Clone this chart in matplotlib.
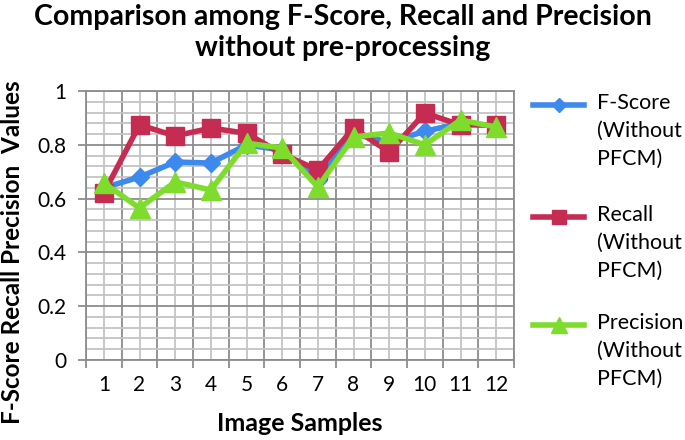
import matplotlib
matplotlib.use("Agg")
import matplotlib.pyplot as plt
from matplotlib.lines import Line2D
from matplotlib.ticker import MultipleLocator

plt.rcParams['font.family'] = ['Lato', 'DejaVu Sans']

samples = list(range(1, 13))
fscore = [0.64, 0.68, 0.736, 0.732, 0.80, 0.78, 0.67, 0.84, 0.81, 0.85, 0.88, 0.87]
recall = [0.621, 0.874, 0.833, 0.862, 0.843, 0.766, 0.706, 0.862, 0.773, 0.918, 0.874, 0.874]
precision = [0.658, 0.565, 0.662, 0.632, 0.806, 0.788, 0.643, 0.829, 0.844, 0.80, 0.892, 0.866]
labels = ["F-Score\n(Without\nPFCM)", "Recall\n(Without\nPFCM)", "Precision\n(Without\nPFCM)"]
yticks = [0, 0.2, 0.4, 0.6, 0.8, 1.0]
ytick_labels = ['0', '0.2', '0.4', '0.6', '0.8', '1']

W, H = 685, 440
fig = plt.figure(figsize=(6.85, 4.4), dpi=100)
ax = fig.add_axes([86 / W, 1 - 360 / H, 428 / W, 269 / H])

c_blue = '#3D8AEE'
c_red = '#C62B52'
c_green = '#7EDD2C'
styles = [(fscore, c_blue, 'D', 9), (recall, c_red, 's', 13), (precision, c_green, '^', 14)]

for z, (vals, c, m, ms) in enumerate(styles):
    ax.plot(samples, vals, color=c, lw=4, marker=m, ms=ms, zorder=3 + z)

ax.set_xlim(0.5, 12.5)
ax.set_ylim(0, 1)
ax.set_xticks(samples)
ax.set_xticks([i + 0.5 for i in range(0, 13)], minor=True)
ax.set_yticks(yticks)
ax.set_yticklabels(ytick_labels)
ax.yaxis.set_minor_locator(MultipleLocator(0.04))

ax.grid(True, which='major', axis='y', color='#8C8C8C', lw=1.3)
ax.grid(True, which='minor', axis='y', color='#C4C4C4', lw=1.3)
ax.grid(True, which='minor', axis='x', color='#8C8C8C', lw=1.3)
ax.grid(True, which='major', axis='x', color='#C4C4C4', lw=1.3)
ax.set_axisbelow(True)

for s in ['top', 'right', 'left', 'bottom']:
    ax.spines[s].set_color('#8C8C8C')
    ax.spines[s].set_linewidth(1.3)

ax.tick_params(axis='x', which='major', length=0, labelsize=15, pad=11)
ax.tick_params(axis='x', which='minor', length=6, color='#8C8C8C', width=1.3)
ax.tick_params(axis='y', which='major', length=6, color='#8C8C8C', width=1.3, labelsize=15, pad=8)
ax.tick_params(axis='y', which='minor', length=0)

ax.set_xlabel('Image Samples', fontsize=18, fontweight='bold', labelpad=12)
ax.set_ylabel('F-Score Recall Precision  Values', fontsize=17.5, fontweight='bold')
ax.yaxis.set_label_coords(-0.145, 0.40)

fig.text(0.5, 0.99, 'Comparison among F-Score, Recall and Precision\nwithout pre-processing',
         ha='center', va='top', fontsize=20.5, fontweight='bold', linespacing=1.2)

# legend drawn manually so handles align with first text line
entry_y = [105, 217, 325]
for (vals, c, m, ms), lab, yy in zip(styles, labels, entry_y):
    yf = 1 - yy / H
    fig.add_artist(Line2D([533 / W, 584 / W], [yf, yf], color=c, lw=4,
                          transform=fig.transFigure))
    fig.add_artist(Line2D([558.5 / W], [yf], color=c, marker=m, ms=ms * 0.8, lw=0,
                          transform=fig.transFigure))
    fig.text(597 / W, 1 - (yy - 12) / H, lab, ha='left', va='top', fontsize=15.5,
             linespacing=1.5, transform=fig.transFigure)

fig.savefig('out.png', dpi=100)
